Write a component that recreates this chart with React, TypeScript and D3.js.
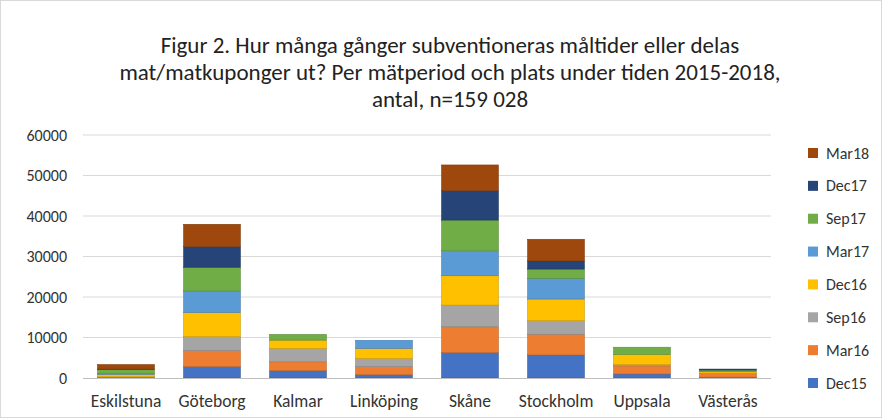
import * as d3 from "d3";

const cities = ["Eskilstuna", "Göteborg", "Kalmar", "Linköping", "Skåne", "Stockholm", "Uppsala", "Västerås"];
const periods = ["Dec15", "Mar16", "Sep16", "Dec16", "Mar17", "Sep17", "Dec17", "Mar18"];
const colors = ["#4472C4", "#ED7D31", "#A5A5A5", "#FFC000", "#5B9BD5", "#70AD47", "#264478", "#9E480E"];

// values per period, one entry per city
const dec15 = [100, 2800, 1800, 800, 6250, 5700, 1000, 200];
const mar16 = [100, 3950, 2200, 2000, 6400, 5100, 2000, 900];
const sep16 = [100, 3450, 3300, 2000, 5350, 3350, 300, 100];
const dec16 = [600, 5950, 2050, 2500, 7250, 5350, 2500, 400];
const mar17 = [200, 5350, 0, 2000, 6150, 5100, 0, 300];
const sep17 = [1000, 5850, 1400, 0, 7600, 2300, 1800, 100];
const dec17 = [100, 5100, 0, 0, 7250, 2000, 0, 200];
const mar18 = [1100, 5500, 0, 0, 6350, 5350, 0, 0];

const yTicks = [0, 10000, 20000, 30000, 40000, 50000, 60000];
const titleLines = [
  "Figur 2. Hur många gånger subventioneras måltider eller delas",
  "mat/matkuponger ut? Per mätperiod och plats under tiden 2015-2018,",
  "antal, n=159 028",
];

const W = 882;
const H = 418;
const font = "Calibri, Carlito, Lato, sans-serif";

export default function App() {
  const series = [dec15, mar16, sep16, dec16, mar17, sep17, dec17, mar18];
  const table = cities.map((c, i) => {
    const row: any = { city: c };
    periods.forEach((p, k) => (row[p] = series[k][i]));
    return row;
  });
  const stacked = d3.stack().keys(periods)(table);

  const x = d3.scaleBand().domain(cities).range([83, 771]).paddingInner(0.34).paddingOuter(0.17);
  const y = d3.scaleLinear().domain([0, 60000]).range([378, 135]);
  const fmt = (v: number) => (v === 0 ? "0" : d3.format(".0f")(v));

  const legendY = d3.scalePoint().domain(periods.slice().reverse()).range([153, 383]);

  return (
    <svg
      width={W}
      height={H}
      style={{ position: "fixed", left: 0, top: 0, background: "#fff" }}
      fontFamily={font}
    >
      <rect x={0.5} y={0.5} width={W - 1} height={H - 1} fill="#fff" stroke="#d9d9d9" />
      {titleLines.map((t, i) => (
        <text key={i} x={450} y={53 + i * 27} textAnchor="middle" fontSize={23} fill="#222">
          {t}
        </text>
      ))}
      {yTicks.map((t) => (
        <g key={t}>
          {t > 0 && <line x1={83} x2={771} y1={y(t)} y2={y(t)} stroke="#d9d9d9" />}
          <text x={67} y={y(t)} textAnchor="end" dominantBaseline="central" fontSize={16} fill="#333">
            {fmt(t)}
          </text>
        </g>
      ))}
      {stacked.map((s, k) =>
        s.map((d, i) =>
          d[1] - d[0] > 0 ? (
            <rect
              key={`${k}-${i}`}
              x={x(cities[i])}
              y={y(d[1])}
              width={x.bandwidth()}
              height={y(d[0]) - y(d[1])}
              fill={colors[k]}
              stroke={d3.color(colors[k])!.darker(0.6).toString()}
              strokeWidth={0.6}
            />
          ) : null
        )
      )}
      <line x1={83} x2={771} y1={378.5} y2={378.5} stroke="#bfbfbf" />
      {cities.map((c) => (
        <text key={c} x={x(c)! + x.bandwidth() / 2} y={401} textAnchor="middle" dominantBaseline="central" fontSize={17.5} fill="#333">
          {c}
        </text>
      ))}
      {periods.map((p, k) => (
        <g key={p} transform={`translate(808, ${legendY(p)})`}>
          <rect x={0} y={-5} width={10} height={10} fill={colors[k]} />
          <text x={18} y={0} dominantBaseline="central" fontSize={16} fill="#333">
            {p}
          </text>
        </g>
      ))}
    </svg>
  );
}
